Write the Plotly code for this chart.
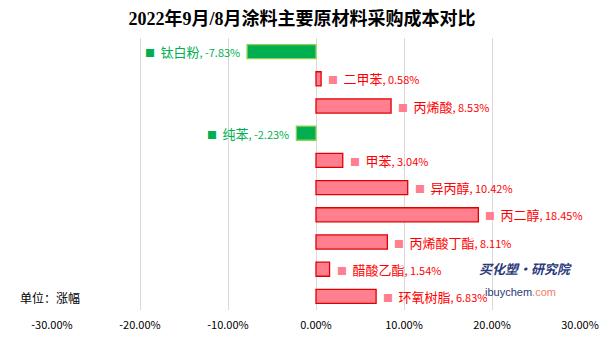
import plotly.graph_objects as go

categories = ["钛白粉", "二甲苯", "丙烯酸", "纯苯", "甲苯", "异丙醇", "丙二醇", "丙烯酸丁酯", "醋酸乙酯", "环氧树脂"]
values = [-7.83, 0.58, 8.53, -2.23, 3.04, 10.42, 18.45, 8.11, 1.54, 6.83]
tick_vals = [-30, -20, -10, 0, 10, 20, 30]
tick_text = ["-30.00%", "-20.00%", "-10.00%", "0.00%", "10.00%", "20.00%", "30.00%"]

FONT = "Noto Sans CJK SC, sans-serif"
fills = ["#00B050" if v < 0 else "#FF7F8F" for v in values]
lines = ["#92D050" if v < 0 else "#E00000" for v in values]

fig = go.Figure()
fig.add_trace(go.Bar(
    x=values, y=categories, orientation="h",
    marker=dict(color=fills, line=dict(color=lines, width=1.3)),
    hoverinfo="skip",
))

annotations = []
for c, v in zip(categories, values):
    col = "#00B050" if v < 0 else "#FF0000"
    sq_col = "#00B050" if v < 0 else "#FF7F8F"
    txt = (f'<span style="font-size:10px;color:{sq_col}">■</span>  '
           f'<span style="font-size:13px">{c}</span>'
           f'<span style="font-size:11px">, {v:.2f}%</span>')
    annotations.append(dict(
        x=v, y=c, xref="x", yref="y", text=txt, showarrow=False,
        xanchor="right" if v < 0 else "left",
        xshift=-5 if v < 0 else 5,
        font=dict(family=FONT, color=col, size=12),
    ))

annotations.append(dict(x=-0.065, y=0.045, xref="paper", yref="paper", text="单位：涨幅",
                        showarrow=False, xanchor="left", yanchor="middle",
                        font=dict(family=FONT, size=12, color="#000000")))

fig.update_layout(
    width=604, height=338,
    margin=dict(l=52, r=24, t=38, b=28, autoexpand=False),
    paper_bgcolor="white", plot_bgcolor="white",
    showlegend=False,
    bargap=0.48,
    title=dict(text="<b>2022年9月/8月涂料主要原材料采购成本对比</b>",
               x=0.5, xanchor="center", y=0.945, yanchor="middle",
               font=dict(family="Liberation Serif, Noto Sans CJK SC, serif", size=18, color="#000000")),
    xaxis=dict(range=[-30, 30], tickvals=tick_vals, ticktext=tick_text, automargin=False,
               showgrid=True, gridcolor="#D9D9D9", gridwidth=1, zeroline=False,
               ticks="outside", ticklen=5, tickcolor="rgba(0,0,0,0)",
               tickfont=dict(family=FONT, size=11, color="#000000"), fixedrange=True),
    yaxis=dict(autorange="reversed", showticklabels=False, showgrid=False, zeroline=False,
               automargin=False, fixedrange=True),
    annotations=annotations,
)

# watermark
fig.add_annotation(x=0.897, y=0.11, xref="paper", yref="paper", showarrow=False,
                   text="<b><i>买化塑·研究院</i></b>", xanchor="center",
                   font=dict(family=FONT, size=13, color="#2B3A7A"))
fig.add_annotation(x=0.888, y=0.035, xref="paper", yref="paper", showarrow=False,
                   text='<span style="color:#2B3A7A">ibuychem</span><span style="color:#F0806A">.com</span>',
                   xanchor="center", font=dict(family="Liberation Sans, sans-serif", size=11))

fig.write_html("out.html")
